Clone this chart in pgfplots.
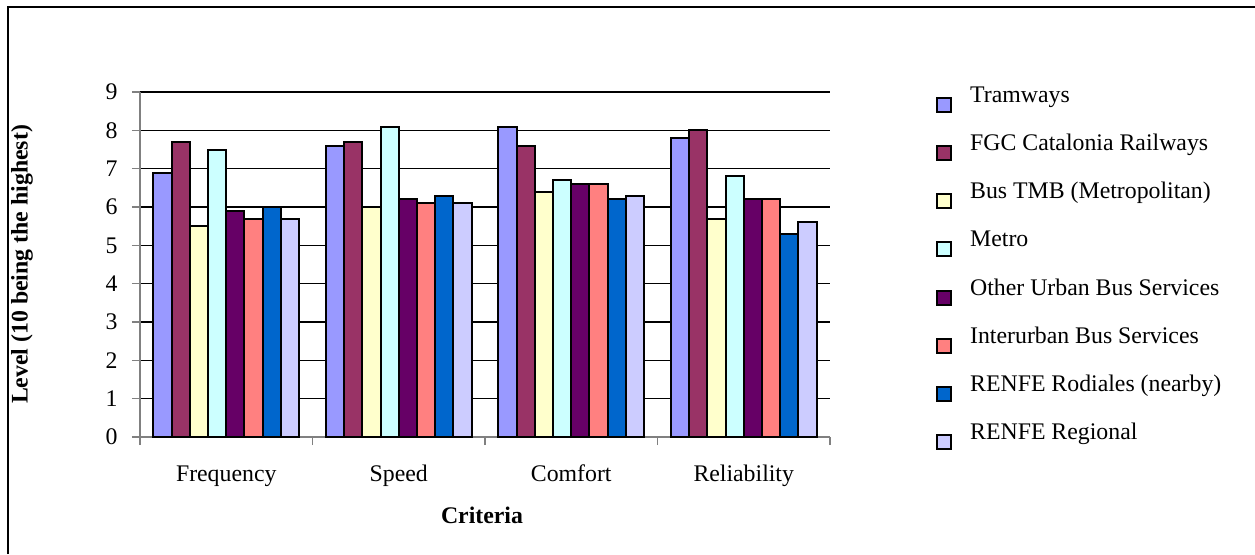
\documentclass[border=0pt]{standalone}
\usepackage{pgfplots}
\pgfplotsset{compat=1.18}
\usepackage{fontspec}
\setmainfont{Liberation Serif}

\definecolor{tram}{HTML}{9999FF}
\definecolor{fgc}{HTML}{993366}
\definecolor{tmb}{HTML}{FFFFCC}
\definecolor{metro}{HTML}{CCFFFF}
\definecolor{urban}{HTML}{660066}
\definecolor{inter}{HTML}{FF8080}
\definecolor{rodal}{HTML}{0066CC}
\definecolor{regio}{HTML}{CCCCFF}

\begin{document}
\fontsize{11.9}{14.3}\selectfont
\begin{tikzpicture}[x=0.5pt,y=0.5pt]
  \begin{axis}[
      scale only axis, width=345pt, height=172.5pt,
      ybar=0pt, bar width=9.1pt,
      xmin=-0.5, xmax=3.5, ymin=0, ymax=9,
      xtick={0,1,2,3},
      xticklabels={Frequency,Speed,Comfort,Reliability},
      ytick={0,1,...,9},
      /pgf/number format/assume math mode=true,
      axis x line=bottom, axis y line=left,
      axis line style={-, draw=gray, line width=0.6pt},
      tick align=outside,
      major tick length=4pt,
      x tick style={draw=none},
      y tick style={draw=gray, line width=0.6pt},
      extra x ticks={-0.5,0.5,1.5,2.5,3.5},
      extra x tick labels={},
      extra x tick style={x tick style={draw=gray, line width=0.6pt}},
      ymajorgrids,
      y grid style={black, line width=0.6pt},
      yticklabel style={anchor=east, inner sep=0pt, xshift=-7pt},
      xticklabel style={anchor=base, inner sep=0pt, yshift=-18.4pt},
      xlabel={\textbf{Criteria}},
      ylabel={\textbf{Level (10 being the highest)}},
      xlabel style={at={(axis description cs:0.4957,-0.2493)}, anchor=base},
      ylabel style={at={(axis description cs:-0.1710,0.5)}, anchor=center},
      every axis plot/.append style={draw=black, line width=1pt},
      legend image code/.code={
        \draw[#1] (0pt,-7.6pt) rectangle (7pt,-0.6pt);
        \path[draw=none, fill=none] (0pt,0pt) -- (13pt,0pt);
      },
      legend cell align=left,
      legend style={draw=none, fill=none, at={(1.1536,1.018)}, anchor=north west,
        inner sep=0pt, row sep=10.75pt,
        nodes={inner xsep=3.4pt, inner ysep=0pt, text height=8pt, text depth=2.5pt}},
    ]
    \addplot[fill=tram]  coordinates {(0,6.9) (1,7.6) (2,8.1) (3,7.8)};
    \addplot[fill=fgc]   coordinates {(0,7.7) (1,7.7) (2,7.6) (3,8.0)};
    \addplot[fill=tmb]   coordinates {(0,5.5) (1,6.0) (2,6.4) (3,5.7)};
    \addplot[fill=metro] coordinates {(0,7.5) (1,8.1) (2,6.7) (3,6.8)};
    \addplot[fill=urban] coordinates {(0,5.9) (1,6.2) (2,6.6) (3,6.2)};
    \addplot[fill=inter] coordinates {(0,5.7) (1,6.1) (2,6.6) (3,6.2)};
    \addplot[fill=rodal] coordinates {(0,6.0) (1,6.3) (2,6.2) (3,5.3)};
    \addplot[fill=regio] coordinates {(0,5.7) (1,6.1) (2,6.3) (3,5.6)};
    \legend{Tramways, FGC Catalonia Railways, Bus TMB (Metropolitan), Metro,
      Other Urban Bus Services, Interurban Bus Services,
      RENFE Rodiales (nearby), RENFE Regional}
  \end{axis}
  % page: 1255 x 554 px (1 px = 0.5pt); axis lower left sits at px (140,437)
  \pgfresetboundingbox
  \useasboundingbox (-140,-117) rectangle (1115,437);
  \draw[line width=1pt] (-132,-117) -- (-132,430) -- (1115,430);
\end{tikzpicture}
\end{document}
